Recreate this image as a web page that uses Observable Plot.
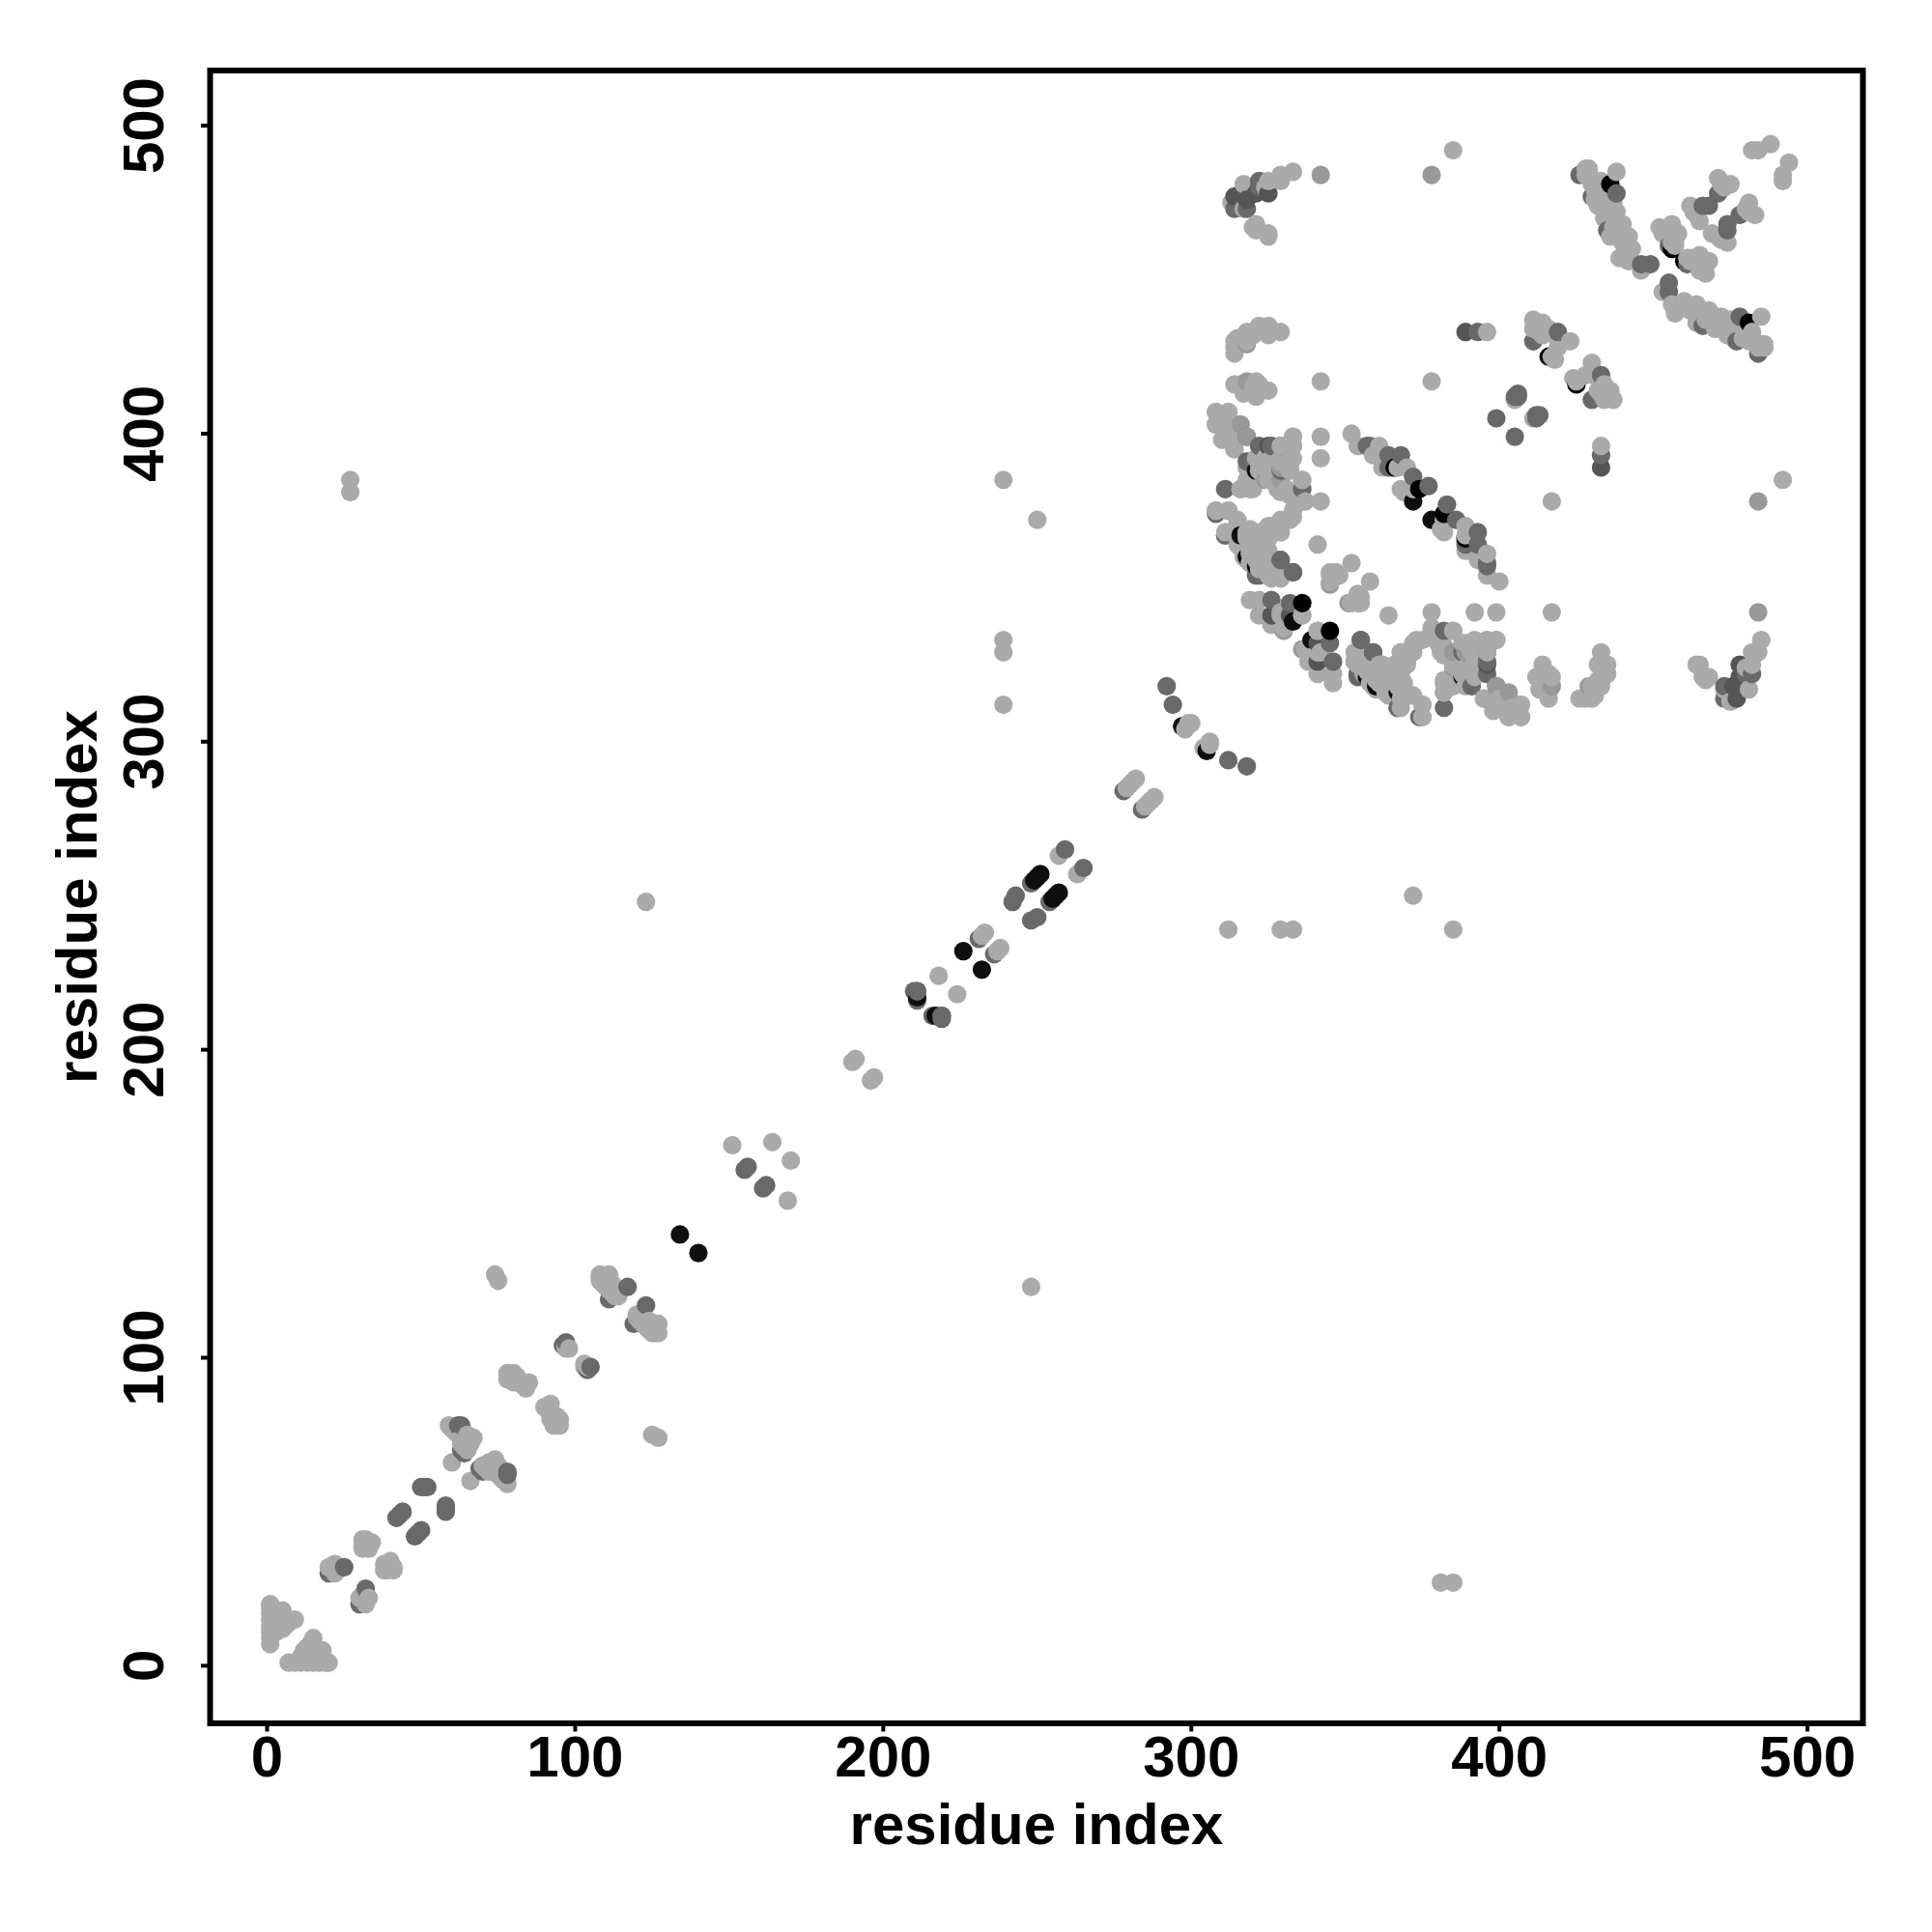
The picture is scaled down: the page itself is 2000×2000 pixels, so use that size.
<!DOCTYPE html>
<html><head><meta charset="utf-8">
<script src="https://cdn.jsdelivr.net/npm/d3@7"></script>
<script src="https://cdn.jsdelivr.net/npm/@observablehq/plot@0.6"></script>
<style>html,body{margin:0;padding:0;background:#fff}</style>
</head><body><div id="chart"></div>
<script>
const tickValues = [0,100,200,300,400,500];
const axisTitle = "residue index";
// residue pairs (i,j) by coupling level; the map is symmetric, so each pair is drawn at (i,j) and (j,i)
const level0 = [[366,389],[374,382],[436,481],[456,460],[345,336],[416,425]];
const level1 = [[134,140],[226,232],[249,255],[250,256],[251,257],[297,305],[211,217],[372,378],[388,321],[339,333],[367,316],[357,321],[360,318]];
const level2 = [[314,477],[318,476],[321,478],[325,478],[389,433],[341,326],[396,325],[341,332]];
const level3 = [[20,30],[25,32],[42,48],[43,49],[44,50],[50,58],[51,58],[52,58],[62,78],[63,78],[63,70],[64,69],[96,104],[97,105],[117,123],[111,119],
 [155,161],[156,162],[210,219],[211,219],[211,216],[219,211],[231,236],[242,248],[243,250],[248,254],[259,265],[278,284],[292,318],[294,312],
 [314,473],[318,473],[322,482],[322,480],[393,433],[345,332],[346,326],[355,333],[359,329],[354,321],[367,311],[374,308],[382,336],[388,329],[396,329],[382,311],[391,318],[399,318],
 [322,396],[326,396],[311,367],[329,359],[333,355],[322,354],
 [357,396],[358,396],[364,393],[365,389],[364,389],[368,393],[372,386],[377,383],[399,405],[405,412],[406,413],[412,406],[411,430],[419,433],
 [426,484],[430,477],[438,478],[435,466],[446,455],[449,455],[455,461],[466,474],[468,474],[471,478]];
const level4 = [[378,484],[318,417],[318,429],[345,351],[336,330],[385,329],[403,316],[342,484],[318,399],[329,389],[324,385]];
const level5 = [[1,7],[1,9],[1,11],[1,13],[1,15],[1,17],[1,19],[1,20],[2,12],[2,14],[2,16],[2,18],[3,11],[3,13],[3,15],[3,17],[4,12],[4,14],[4,16],[5,12],[5,14],[5,16],[5,18],[6,13],[6,15],[7,14],[9,15],
 [21,32],[22,33],[20,32],[22,30],[23,31],[31,41],[31,39],[31,38],[32,41],[33,40],[33,38],[34,40],
 [59,78],[60,77],[60,66],[61,76],[62,75],[63,74],[64,73],[65,75],[66,72],[67,74],[64,71],[65,70],[66,73],[63,72],
 [78,95],[79,94],[80,95],[81,94],[78,93],[80,92],[82,92],[83,91],[84,90],[85,92],[84,91],[97,103],[98,103],[97,104],
 [108,127],[109,125],[110,126],[111,127],[109,124],[110,123],[111,122],[112,124],[113,121],[112,121],[114,120],[113,122],[113,120],[108,126],[108,125],[110,124],[111,124],
 [74,127],[75,125],[151,169],[164,170],[190,196],[191,197],[218,224],[232,237],[233,238],[257,263],[279,285],[280,286],[281,287],[282,288],[298,304],[299,306],[300,306],
 [27,381],[27,385],[123,248],[239,312],[239,329],[239,333],[239,385],[250,372],
 [313,475],[317,481],[317,473],[324,480],[325,482],[329,484],[329,482],[333,485],[385,492],
 [320,467],[321,468],[325,465],[325,464],[321,466],
 [314,426],[314,428],[314,430],[315,431],[318,430],[318,433],[320,432],[322,435],[325,435],[325,432],[329,433],[396,433],
 [314,416],[316,416],[317,413],[321,417],[320,415],[321,412],[322,416],[325,414],[342,417],[378,417],
 [342,399],[342,392],[342,378],[341,364],[352,358],[345,355],[348,354],[346,354],[347,355],[354,347],[354,345],[352,345],
 [341,336],[337,330],[338,326],[341,329],[341,322],[346,322],[346,319],[336,341],[329,342],
 [353,329],[353,326],[355,328],[357,326],[362,325],[366,325],[359,318],[363,316],[368,322],[368,319],[368,314],[371,315],[375,312],[375,308],[368,329],[372,332],[375,333],[364,320],[362,322],[370,326],
 [378,337],[385,336],[381,333],[381,329],[385,325],[388,332],[388,325],[392,329],[392,333],[396,333],[399,333],[382,320],[382,316],[385,319],[395,314],[399,315],[403,315],[398,310],[403,308],[404,311],[407,312],[407,308],[400,311],[400,314],[392,324],[390,322],
 [321,392],[326,392],[329,391],[332,389],[336,385],[336,378],[318,389],[318,385],[319,382],[316,382],[328,382],[332,380],[331,382],[324,389],[308,375],[312,375],[315,372],[311,368],[315,364],[325,370],[329,368],[329,372],[333,373],[321,367],[325,361],[321,363],[317,360],[325,354],[329,354],[323,357],[319,362],[322,360],[327,358],[333,399],[333,396],[329,396],[311,399],[311,402],[308,403],[308,407],[312,407],[315,399],[314,395],
 [319,358],[319,361],[322,358],[322,356],[321,359],[319,369],[322,388],[323,387],[388,323],[367,318],[368,318],[360,320],[357,323],[318,366],[318,368],
 [352,400],[354,396],[361,396],[359,393],[362,389],[370,389],[368,382],[372,382],[369,381],[367,389],
 [405,411],[411,437],[412,435],[412,436],[414,436],[414,434],[414,432],[411,434],[413,433],[418,432],[416,434],[423,430],[419,428],[417,425],[418,424],
 [428,486],[428,484],[429,485],[429,486],[430,481],[431,479],[431,476],[432,474],[434,473],[434,470],[433,482],[436,477],[438,485],[437,475],[438,472],[436,464],[437,467],[437,465],[440,468],[442,464],[440,462],[439,457],[442,456],[446,453],[443,460],
 [452,467],[453,465],[454,466],[456,468],[458,465],[456,462],[457,461],[457,462],[462,474],[463,472],[464,471],[465,473],[465,469],[471,483],[473,480],[475,481],[472,481],
 [482,492],[484,492],[488,494]];

const levels = [level0, level1, level2, level3, level4, level5];
const levelValues = [0, 0.08, 0.5, 0.62, 0.9, 1];
const rows = levels.flatMap((list, n) => list.flatMap(([i, j]) => [
  {x: i, y: j, v: levelValues[n]}, {x: j, y: i, v: levelValues[n]}
])).sort((a, b) => d3.ascending(a.x, b.x) || d3.ascending(a.y, b.y));

const chart = Plot.plot({
  width: 2000, height: 2000,
  marginLeft: 217, marginRight: 72, marginTop: 72.5, marginBottom: 216.5,
  x: {domain: [-18.5, 518], ticks: tickValues},
  y: {domain: [-18.7, 517.9], ticks: tickValues},
  color: {type: "linear", domain: [0, 1], range: ["#000000", "#aaaaaa"]},
  style: {fontFamily: "'Liberation Sans'", fontWeight: "bold", background: "#fff"},
  marks: [
    Plot.dot(rows, {x: "x", y: "y", fill: "v", r: 9.6}),
    Plot.frame({stroke: "#000", strokeWidth: 6}),
    Plot.axisX(tickValues, {anchor: "bottom", tickSize: 9, strokeWidth: 4, tickPadding: 3, fontSize: 60, fill: "#000",
      label: axisTitle, labelAnchor: "center", labelArrow: "none", labelOffset: 125}),
    Plot.axisY(tickValues, {anchor: "left", tickSize: 9, strokeWidth: 4, tickPadding: 40, fontSize: 60, fill: "#000", tickRotate: -90,
      label: axisTitle, labelAnchor: "center", labelArrow: "none", labelOffset: 160})
  ]
});
document.getElementById("chart").appendChild(chart);
</script></body></html>
